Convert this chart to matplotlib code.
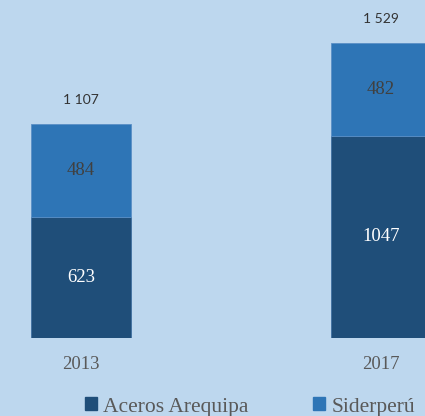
import matplotlib
matplotlib.use('Agg')
import matplotlib.pyplot as plt
from matplotlib.patches import Patch

# data
years = ['2013', '2017']
aceros = [623, 1047]
sider = [484, 482]
totals = ['1 107', '1 529']

BG = '#BDD7EE'
DARK = '#1F4E79'
LIGHT = '#2E75B6'
SERIF = ['Liberation Serif', 'DejaVu Serif']
SANS = ['Lato', 'DejaVu Sans']

fig = plt.figure(figsize=(4.25, 4.16), dpi=100, facecolor=BG)
ax = fig.add_axes([0, 78.3 / 416, 1, 337.7 / 416])
ax.set_facecolor(BG)

x = list(range(len(years)))
ax.bar(x, aceros, width=1 / 3, color=DARK, edgecolor='#3f6f9f', linewidth=0.6)
ax.bar(x, sider, width=1 / 3, bottom=aceros, color=LIGHT, edgecolor='#5a8fc6', linewidth=0.6)

ax.set_xlim(-81 / 300, 344 / 300)
ax.set_ylim(0, 1750)

for i in x:
    ax.text(i, aceros[i] / 2, str(aceros[i]), ha='center', va='center',
            color='white', fontsize=13.5, family=SERIF)
    ax.text(i, aceros[i] + sider[i] / 2, str(sider[i]), ha='center', va='center',
            color='#404040', fontsize=13.5, family=SERIF)
    ax.annotate(totals[i], (i, aceros[i] + sider[i]), xytext=(0, 17),
                textcoords='offset points', ha='center', va='center',
                color='#333333', fontsize=10, family=SANS)

ax.set_xticks(x)
ax.set_xticklabels(years, fontsize=13.5, family=SERIF, color='#595959')
ax.tick_params(axis='x', length=0, pad=13)
ax.set_yticks([])
for s in ax.spines.values():
    s.set_visible(False)

handles = [Patch(color=DARK, label='Aceros Arequipa'), Patch(color=LIGHT, label='Siderperú')]
leg = fig.legend(handles=handles, loc='center', bbox_to_anchor=(250 / 425, 1 - 407 / 416),
                 ncol=2, frameon=False, handlelength=0.55, handleheight=0.55,
                 handletextpad=0.3, columnspacing=3.0,
                 prop={'family': SERIF, 'size': 15.5})
for t in leg.get_texts():
    t.set_color('#595959')

fig.savefig('out.png', dpi=100, facecolor=BG)
